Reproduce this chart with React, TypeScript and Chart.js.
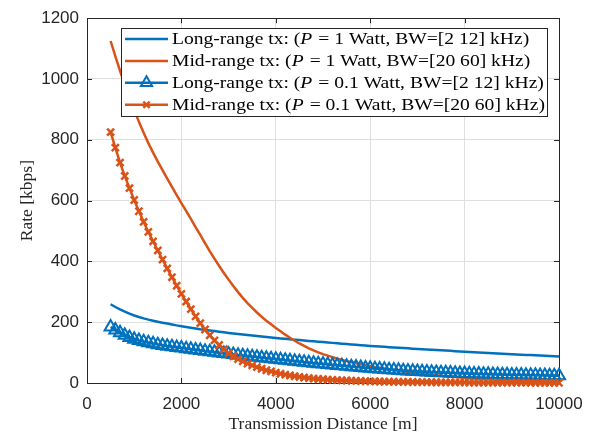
import React, { useEffect, useRef } from "react";
import { Chart, registerables } from "chart.js";

Chart.register(...registerables);

// Transmission distance [m]
const distance = [
  500, 600, 700, 800, 900, 1000, 1100, 1200, 1300, 1400,
  1500, 1600, 1700, 1800, 1900, 2000, 2100, 2200, 2300, 2400,
  2500, 2600, 2700, 2800, 2900, 3000, 3100, 3200, 3300, 3400,
  3500, 3600, 3700, 3800, 3900, 4000, 4100, 4200, 4300, 4400,
  4500, 4600, 4700, 4800, 4900, 5000, 5100, 5200, 5300, 5400,
  5500, 5600, 5700, 5800, 5900, 6000, 6100, 6200, 6300, 6400,
  6500, 6600, 6700, 6800, 6900, 7000, 7100, 7200, 7300, 7400,
  7500, 7600, 7700, 7800, 7900, 8000, 8100, 8200, 8300, 8400,
  8500, 8600, 8700, 8800, 8900, 9000, 9100, 9200, 9300, 9400,
  9500, 9600, 9700, 9800, 9900, 10000,
];

// Long-range tx, P = 1 W, BW = [2 12] kHz  (kbps)
const longRangeP1 = [
  259, 250, 242, 235, 228, 222, 217, 212.5, 208.5, 205,
  201.5, 198.5, 195.5, 192.5, 189.5, 187, 184.5, 182, 179.5, 177,
  175, 172.8, 170.7, 168.6, 166.6, 164.6, 162.9, 161.2, 159.5, 157.9,
  156.2, 154.6, 152.9, 151.3, 149.6, 148, 146.6, 145.2, 143.8, 142.4,
  141.1, 139.8, 138.4, 137.1, 135.8, 134.5, 133.2, 132, 130.7, 129.5,
  128.2, 127, 125.7, 124.5, 123.2, 122, 121, 120, 119, 118,
  117, 116, 115, 114, 113, 112, 111.1, 110.2, 109.3, 108.4,
  107.5, 106.6, 105.7, 104.8, 103.9, 103, 102.2, 101.4, 100.5, 99.7,
  98.9, 98.1, 97.3, 96.4, 95.6, 94.8, 94, 93.2, 92.5, 91.7,
  90.9, 90.1, 89.3, 88.5, 87.8, 87,
];

// Mid-range tx, P = 1 W, BW = [20 60] kHz
const midRangeP1 = [
  1125, 1075, 1027, 982, 939, 898, 859, 823, 789, 758,
  728, 700, 672, 645, 618, 592, 566, 540, 513, 487,
  460, 434, 409, 385, 362, 340, 319, 299, 280, 263,
  247, 232, 218, 205, 193, 181, 170, 159, 149, 139,
  130, 122, 114, 107, 100.5, 95, 90, 85, 80.5, 76,
  72, 68.5, 65, 61.5, 58.5, 55.5, 52.5, 50, 47.5, 45,
  42.5, 40.3, 38.1, 36, 34, 32, 30.2, 28.5, 26.8, 25.2,
  23.7, 22.2, 20.8, 19.5, 18.2, 17, 15.9, 14.9, 13.9, 13,
  12.1, 11.3, 10.5, 9.8, 9.1, 8.5, 7.9, 7.4, 6.9, 6.4,
  6.0, 5.6, 5.2, 4.8, 4.5, 4.2,
];

// Long-range tx, P = 0.1 W, BW = [2 12] kHz
const longRangeP01 = [
  184, 174, 165, 157, 150, 144, 139.5, 135.5, 132, 129,
  126.2, 123.6, 121.2, 119, 117, 115, 112.9, 110.8, 108.7, 106.6,
  104.6, 102.7, 100.8, 98.9, 97, 95.2, 93.4, 91.6, 89.8, 88,
  86.3, 84.6, 82.9, 81.2, 79.5, 77.8, 76.2, 74.6, 73, 71.4,
  69.8, 68.2, 66.7, 65.2, 63.7, 62.2, 60.7, 59.2, 57.8, 56.4,
  55, 53.6, 52.3, 51, 49.7, 48.4, 47.2, 46, 44.9, 43.8,
  42.7, 41.7, 40.7, 39.7, 38.8, 37.9, 37.1, 36.3, 35.5, 34.8,
  34.1, 33.4, 32.8, 32.2, 31.6, 31, 30.5, 30, 29.5, 29,
  28.6, 28.2, 27.8, 27.4, 27, 26.6, 26.3, 26, 25.7, 25.4,
  25.1, 24.8, 24.5, 24.2, 23.9, 23.6,
];

// Mid-range tx, P = 0.1 W, BW = [20 60] kHz
const midRangeP01 = [
  825, 774, 725, 681, 641, 602, 565, 530, 497, 466,
  436, 406, 377, 348, 320, 293, 268, 243, 219, 197,
  176, 157, 140, 125, 111, 98, 88, 79, 71, 64,
  58, 52, 47, 42, 38, 34, 30.5, 27.5, 24.8, 22.3,
  20, 18, 16.2, 14.6, 13.3, 12.3, 11.3, 10.4, 9.6, 8.9,
  8.2, 7.6, 7.0, 6.5, 6.0, 5.6, 5.2, 4.9, 4.6, 4.3,
  4.0, 3.8, 3.6, 3.4, 3.2, 3.0, 2.85, 2.7, 2.55, 2.4,
  2.3, 2.2, 2.1, 2.0, 1.9, 1.8, 1.72, 1.64, 1.56, 1.49,
  1.42, 1.36, 1.3, 1.24, 1.18, 1.13, 1.08, 1.03, 0.99, 0.95,
  0.91, 0.87, 0.84, 0.81, 0.78, 0.75,
];

const xTicks = [0, 2000, 4000, 6000, 8000, 10000];
const yTicks = [0, 200, 400, 600, 800, 1000, 1200];

const legendLabels = [
  { pre: "Long-range tx: (", it: "P", post: " = 1 Watt, BW=[2 12] kHz)" },
  { pre: "Mid-range tx: (", it: "P", post: " = 1 Watt, BW=[20 60] kHz)" },
  { pre: "Long-range tx: (", it: "P", post: " = 0.1 Watt, BW=[2 12] kHz)" },
  { pre: "Mid-range tx: (", it: "P", post: " = 0.1 Watt, BW=[20 60] kHz)" },
];

const BLUE = "#0072BD";
const ORANGE = "#D95319";
const AXIS = "#262626";
const SERIF = "'Liberation Serif', 'DejaVu Serif', serif";
const SANS = "'Liberation Sans', Arial, Helvetica, sans-serif";

function toPoints(ys: number[]) {
  return distance.map((d, i) => ({ x: d, y: ys[i] }));
}

function drawTriangle(ctx: CanvasRenderingContext2D, x: number, y: number, r: number) {
  ctx.beginPath();
  for (let k = 0; k < 3; k++) {
    const a = (k * 2 * Math.PI) / 3;
    const px = x + Math.sin(a) * r;
    const py = y - Math.cos(a) * r;
    if (k === 0) ctx.moveTo(px, py);
    else ctx.lineTo(px, py);
  }
  ctx.closePath();
  ctx.stroke();
}

function drawCross(ctx: CanvasRenderingContext2D, x: number, y: number, r: number) {
  const d = r * Math.SQRT1_2;
  ctx.beginPath();
  ctx.moveTo(x - d, y - d);
  ctx.lineTo(x + d, y + d);
  ctx.moveTo(x - d, y + d);
  ctx.lineTo(x + d, y - d);
  ctx.stroke();
}

const axesBoxPlugin = {
  id: "axesBox",
  beforeDatasetsDraw(chart: any) {
    const { ctx, chartArea, scales } = chart;
    const { left, right, top, bottom } = chartArea;
    ctx.save();
    ctx.strokeStyle = AXIS;
    ctx.lineWidth = 1;
    ctx.beginPath();
    const tl = 5;
    xTicks.forEach((v) => {
      const px = Math.round(scales.x.getPixelForValue(v)) + 0.5;
      ctx.moveTo(px, bottom);
      ctx.lineTo(px, bottom - tl);
      ctx.moveTo(px, top);
      ctx.lineTo(px, top + tl);
    });
    yTicks.forEach((v) => {
      const py = Math.round(scales.y.getPixelForValue(v)) + 0.5;
      ctx.moveTo(left, py);
      ctx.lineTo(left + tl, py);
      ctx.moveTo(right, py);
      ctx.lineTo(right - tl, py);
    });
    ctx.stroke();
    ctx.strokeRect(Math.round(left) + 0.5, Math.round(top) + 0.5, Math.round(right - left), Math.round(bottom - top));
    ctx.restore();
  },
};

const insideLegendPlugin = {
  id: "insideLegend",
  afterDraw(chart: any) {
    const { ctx, chartArea } = chart;
    const bx = chartArea.left + 34;
    const by = chartArea.top + 10;
    const bw = 426;
    const bh = 88;
    ctx.save();
    ctx.fillStyle = "#ffffff";
    ctx.fillRect(bx, by, bw, bh);
    ctx.strokeStyle = AXIS;
    ctx.lineWidth = 1;
    ctx.strokeRect(Math.round(bx) + 0.5, Math.round(by) + 0.5, bw, bh);
    const rowH = 21.9;
    const fs = 17;
    // horizontal stretch so that the first label spans the same width as in the figure
    ctx.font = `${fs}px ${SERIF}`;
    const l0 = legendLabels[0];
    let w0 = ctx.measureText(l0.pre).width + ctx.measureText(l0.post).width;
    ctx.font = `italic ${fs}px ${SERIF}`;
    w0 += ctx.measureText(l0.it).width;
    const sx = 356 / w0;
    chart.data.datasets.forEach((ds: any, i: number) => {
      const cy = by + 10.8 + i * rowH;
      const x0 = bx + 4;
      const x1 = bx + 47;
      ctx.strokeStyle = ds.borderColor;
      ctx.lineWidth = 2.5;
      ctx.beginPath();
      ctx.moveTo(x0, cy);
      ctx.lineTo(x1, cy);
      ctx.stroke();
      const mx = (x0 + x1) / 2;
      if (ds.pointStyle === "triangle") {
        ctx.lineWidth = 2;
        drawTriangle(ctx, mx, cy, 6.5);
      } else if (ds.pointStyle === "crossRot") {
        ctx.lineWidth = 2.5;
        drawCross(ctx, mx, cy, 4.5);
      }
      const lab = legendLabels[i];
      ctx.save();
      ctx.translate(bx + 51, cy + 1);
      ctx.scale(sx, 1);
      ctx.fillStyle = "#000000";
      ctx.textBaseline = "middle";
      ctx.textAlign = "left";
      let tx = 0;
      ctx.font = `${fs}px ${SERIF}`;
      ctx.fillText(lab.pre, tx, 0);
      tx += ctx.measureText(lab.pre).width;
      ctx.font = `italic ${fs}px ${SERIF}`;
      ctx.fillText(lab.it, tx, 0);
      tx += ctx.measureText(lab.it).width + 1;
      ctx.font = `${fs}px ${SERIF}`;
      ctx.fillText(lab.post, tx, 0);
      ctx.restore();
    });
    ctx.restore();
  },
};

export default function App() {
  const canvasRef = useRef<HTMLCanvasElement | null>(null);

  useEffect(() => {
    const canvas = canvasRef.current;
    if (!canvas) return;
    const chart = new Chart(canvas, {
      type: "line",
      data: {
        datasets: [
          {
            label: "Long-range tx: (P = 1 Watt, BW=[2 12] kHz)",
            data: toPoints(longRangeP1),
            borderColor: BLUE,
            backgroundColor: BLUE,
            borderWidth: 2.5,
            pointRadius: 0,
            pointStyle: false as any,
            order: 3,
            clip: 10,
          },
          {
            label: "Mid-range tx: (P = 1 Watt, BW=[20 60] kHz)",
            data: toPoints(midRangeP1),
            borderColor: ORANGE,
            backgroundColor: ORANGE,
            borderWidth: 2.5,
            pointRadius: 0,
            pointStyle: false as any,
            order: 2,
            clip: 10,
          },
          {
            label: "Long-range tx: (P = 0.1 Watt, BW=[2 12] kHz)",
            data: toPoints(longRangeP01),
            borderColor: BLUE,
            backgroundColor: "rgba(0,0,0,0)",
            borderWidth: 2.5,
            pointStyle: "triangle",
            pointRadius: 7,
            pointBorderWidth: 2,
            pointBorderColor: BLUE,
            pointBackgroundColor: "rgba(0,0,0,0)",
            order: 1,
            clip: 10,
          },
          {
            label: "Mid-range tx: (P = 0.1 Watt, BW=[20 60] kHz)",
            data: toPoints(midRangeP01),
            borderColor: ORANGE,
            backgroundColor: ORANGE,
            borderWidth: 2.5,
            pointStyle: "crossRot",
            pointRadius: 5,
            pointBorderWidth: 2.5,
            pointBorderColor: ORANGE,
            order: 0,
            clip: 10,
          },
        ],
      },
      options: {
        animation: false,
        responsive: false,
        maintainAspectRatio: false,
        layout: { padding: { left: 0, right: 36, top: 13, bottom: 0 } },
        plugins: {
          legend: { display: false },
          tooltip: { enabled: false },
        },
        scales: {
          x: {
            type: "linear",
            min: 0,
            max: 10000,
            afterBuildTicks: (s: any) => {
              s.ticks = xTicks.map((v) => ({ value: v }));
            },
            afterFit: (s: any) => {
              s.height = 54;
            },
            ticks: {
              color: AXIS,
              font: { family: SANS, size: 17 },
              padding: 11,
              maxRotation: 0,
              callback: (v: any) => String(v),
            },
            grid: { color: "#dfdfdf", lineWidth: 1, drawTicks: false },
            border: { display: false },
            title: {
              display: true,
              text: "Transmission Distance [m]",
              color: AXIS,
              font: { family: SERIF, size: 17.5 },
              padding: { top: 0, bottom: 2 },
            },
          },
          y: {
            type: "linear",
            min: 0,
            max: 1200,
            afterBuildTicks: (s: any) => {
              s.ticks = yTicks.map((v) => ({ value: v }));
            },
            afterFit: (s: any) => {
              s.width = 87;
            },
            ticks: {
              color: AXIS,
              font: { family: SANS, size: 17 },
              padding: 8,
              callback: (v: any) => String(v),
            },
            grid: { color: "#dfdfdf", lineWidth: 1, drawTicks: false },
            border: { display: false },
            title: {
              display: true,
              text: "Rate [kbps]",
              color: AXIS,
              font: { family: SERIF, size: 17.5 },
              padding: { top: 17, bottom: 0 },
            },
          },
        },
      },
      plugins: [axesBoxPlugin, insideLegendPlugin],
    });
    return () => chart.destroy();
  }, []);

  return (
    <div style={{ position: "fixed", left: 0, top: 0, width: 595, height: 437, background: "#fff" }}>
      <canvas ref={canvasRef} width={595} height={437} style={{ display: "block" }} />
    </div>
  );
}
